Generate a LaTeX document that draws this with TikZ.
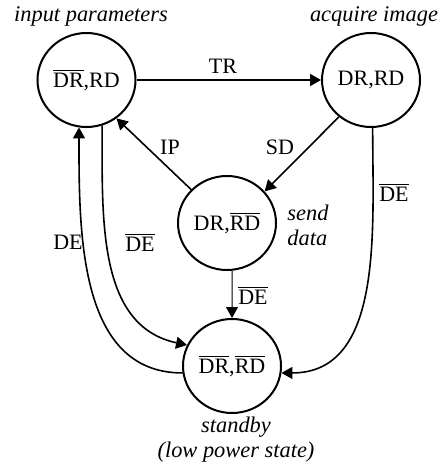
\documentclass[tikz,border=0pt]{standalone}
\usepackage{fontspec}
\setmainfont{Liberation Serif}
\usepackage{tikz}
\usetikzlibrary{shapes.geometric,arrows.meta,positioning}

\newcommand{\nt}[1]{$\overline{\mbox{#1}}$}

\begin{document}
\begin{tikzpicture}[
    x=0.5pt, y=-0.5pt,
    font=\fontsize{11}{13}\selectfont,
    state/.style={ellipse, draw, line width=1pt, minimum width=49pt, minimum height=47pt, inner sep=0pt},
    caption/.style={font=\fontsize{11.2}{12.5}\selectfont\itshape, align=center, inner sep=1pt},
    arrow/.style={-{Triangle[length=5.5pt, width=6pt]}, line width=0.8pt}
]
\useasboundingbox (0,0) rectangle (441,465);

% States
\node[state] (ip) at (86.5,80) {\nt{DR},RD};
\node[state] (ai) at (371,80) {DR,RD};
\node[state] (sd) at (227,223) {DR,\nt{RD}};
\node[state] (sb) at (232,366) {\nt{DR},\nt{RD}};

% Captions
\node[caption] (ipcap) at (91,16) {input parameters};
\node[caption] (aicap) at (374,16) {acquire image};
\node[caption, align=left, anchor=west] (sdcap) at (285,225) {send\\data};
\node[caption] (sbcap) at (236,440) {standby\\(low power state)};

% Transitions
\draw[arrow] (ip) -- (ai);
\draw[arrow] (ai.-131) -- (sd.40);
\draw[arrow] (sd.137) -- (ip.-52);
\draw[arrow, line width=0.5pt] (sd.-84) -- (sb.north);
\draw[arrow] (ip.-71) to[out=-90, in=168] (sb.155);
\draw[arrow] (sb.188) to[out=180, in=-90] (ip.-99);
\draw[arrow] (ai.-88) to[out=-90, in=0] (sb.-8);

% Transition labels
\node (tr) at (223,66) {TR};
\node (sdl) at (280,147) {SD};
\node (ipl) at (170,147) {IP};
\node (de1) at (68,242) {DE};
\node (de2) at (140,242) {\nt{DE}};
\node (de3) at (394,192) {\nt{DE}};
\node (de4) at (253,295) {\nt{DE}};

\end{tikzpicture}
\end{document}
